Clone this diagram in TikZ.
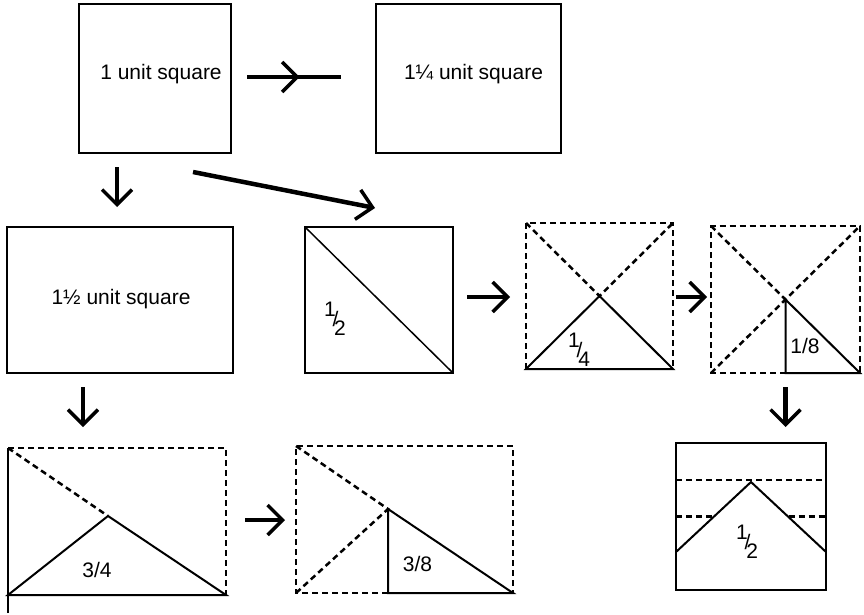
\documentclass[tikz,border=0pt]{standalone}
\usepackage{fontspec}
\setmainfont{Liberation Sans}
\usetikzlibrary{
    arrows.meta,
    positioning,
    decorations.markings
}

\newcommand{\upfrac}[2]{\raisebox{.43em}{#1}\kern-.15em/\kern-.2em\raisebox{-.43em}{#2}}

\begin{document}
\begin{tikzpicture}[
x=1pt,
y=-1pt,
font=\fontsize{21}{25}\selectfont,
frame/.style={
inner sep=0pt,
outer sep=0pt,
minimum width=#1,
minimum height=147pt
},
box/.style={
frame=#1,
draw,
line width=2pt
},
lbl/.style={
anchor=base,
inner sep=0pt
},
dashline/.style={
line width=2.5pt,
dash pattern=on 6pt off 4pt
},
edgeline/.style={
line width=2pt
},
arr/.style={
line width=4.5pt,
-{Straight Barb[length=15pt,width=30pt,line width=3.5pt]}
}
]

\useasboundingbox (0,0) rectangle (864,615);

\node[box=152pt, minimum height=149pt] (one) at (155,78.5) {};
\node[box=185pt, minimum height=149pt,
right=145pt of one] (onequarter) {};
\node[box=226pt, minimum height=146pt,
below=74pt of one, xshift=-35pt] (onehalf) {};
\node[box=148pt, minimum height=146pt,
right=72pt of onehalf] (half) {};
\node[frame=147pt, minimum height=146pt,
right=73pt of half, yshift=4pt] (quarter) {};
\node[frame=149pt,
right=38pt of quarter, yshift=-3.5pt] (eighth) {};
\node[box=150pt,
below=70pt of eighth, xshift=-34.5pt] (folded) {};
\node[frame=218pt,
below=75pt of onehalf, xshift=-3pt] (threequarter) {};
\node[frame=217pt,
right=70pt of threequarter, yshift=2pt] (threeeighth) {};

\node[lbl] (oneText) at ([xshift=6pt,yshift=-1.5pt]one.center) {1 unit square};
\node[lbl] (onequarterText) at ([xshift=5pt,yshift=-1.5pt]onequarter.center) {1¼ unit square};
\node[lbl] (onehalfText) at ([xshift=1pt,yshift=-4pt]onehalf.center) {1½ unit square};
\node[lbl] (halfText) at ([xshift=-44pt,yshift=-26pt]half.center) {\upfrac{1}{2}};
\node[lbl] (quarterText) at ([xshift=-20.5pt,yshift=-61pt]quarter.center) {\upfrac{1}{4}};
\node[lbl] (eighthText) at ([xshift=19.5pt,yshift=-53.5pt]eighth.center) {1/8};
\node[lbl] (foldedText) at ([xshift=-4pt,yshift=-32.5pt]folded.center) {\upfrac{1}{2}};
\node[lbl] (threequarterText) at ([xshift=-20pt,yshift=-55.5pt]threequarter.center) {3/4};
\node[lbl] (threeeighthText) at ([xshift=13pt,yshift=-51.5pt]threeeighth.center) {3/8};

\draw[line width=4.5pt,
postaction={decorate},
decoration={markings,
mark=at position 0.56 with {\arrow{Straight Barb[length=15pt,width=30pt,line width=3.5pt]}}}]
([xshift=16pt,yshift=1.5pt]one.east) -- ([xshift=-35pt,yshift=1.5pt]onequarter.west);
\draw[arr] ([xshift=-38pt,yshift=-14pt]one.south) -- ([xshift=-3pt,yshift=20pt]onehalf.north);
\draw[arr] ([xshift=38pt,yshift=-19pt]one.south) -- ([xshift=-4pt,yshift=19pt]half.north);
\draw[arr] ([xshift=-37pt,yshift=-14pt]onehalf.south) -- ([xshift=-34pt,yshift=21pt]threequarter.north);
\draw[arr] ([xshift=14pt,yshift=3pt]half.east) -- ([xshift=-16pt,yshift=-1pt]quarter.west);
\draw[arr] ([xshift=3pt,yshift=-1pt]quarter.east) -- ([xshift=-4pt,yshift=2.5pt]eighth.west);
\draw[arr] ([yshift=-14pt]eighth.south) -- ([xshift=34.5pt,yshift=16pt]folded.north);
\draw[arr] ([xshift=19pt,yshift=1.5pt]threequarter.east) -- ([xshift=-11pt,yshift=-0.5pt]threeeighth.west);

\draw[line width=1.5pt] (half.north west) -- (half.south east);

\draw[dashline] (quarter.south west) -- (quarter.north west) -- (quarter.north east) -- (quarter.south east);
\draw[dashline] (quarter.north west) -- (quarter.center) -- (quarter.north east);
\draw[edgeline] (quarter.south west) -- (quarter.center) -- (quarter.south east) -- cycle;

\coordinate (eighthBot) at (eighth.center |- eighth.south);
\draw[dashline] (eighthBot) -- (eighth.south west) -- (eighth.north west) -- (eighth.north east) -- (eighth.south east);
\draw[dashline] (eighth.north west) -- (eighth.center) -- (eighth.north east);
\draw[dashline] (eighth.south west) -- (eighth.center);
\draw[edgeline] (eighth.center) -- (eighthBot) -- (eighth.south east) -- cycle;

\draw[dashline] ([yshift=-37pt]folded.north west) -- ([yshift=-37pt]folded.north east);
\draw[dashline] (folded.west) -- ([xshift=37.5pt]folded.west);
\draw[dashline] ([xshift=-37.5pt]folded.east) -- (folded.east);
\draw[edgeline] ([yshift=-35.5pt]folded.west) -- ([yshift=-39pt]folded.north) -- ([yshift=-35.5pt]folded.east);

\coordinate (threequarterTop) at ([xshift=-9pt,yshift=5.5pt]threequarter.center);
\draw[dashline] (threequarter.north west) -- (threequarter.north east) -- (threequarter.south east);
\draw[dashline] (threequarter.north west) -- (threequarterTop);
\draw[edgeline] ([yshift=-18pt]threequarter.south west) -- (threequarter.north west);
\draw[edgeline] (threequarter.south east) -- (threequarter.south west) -- (threequarterTop) -- cycle;

\coordinate (threeeighthTop) at ([xshift=-16.5pt,yshift=10.5pt]threeeighth.center);
\coordinate (threeeighthBot) at (threeeighthTop |- threeeighth.south);
\draw[dashline] (threeeighthBot) -- (threeeighth.south west) -- (threeeighth.north west) -- (threeeighth.north east) -- (threeeighth.south east);
\draw[dashline] (threeeighth.north west) -- (threeeighthTop) -- (threeeighth.south west);
\draw[edgeline] (threeeighthTop) -- (threeeighthBot) -- (threeeighth.south east) -- cycle;

\end{tikzpicture}
\end{document}
